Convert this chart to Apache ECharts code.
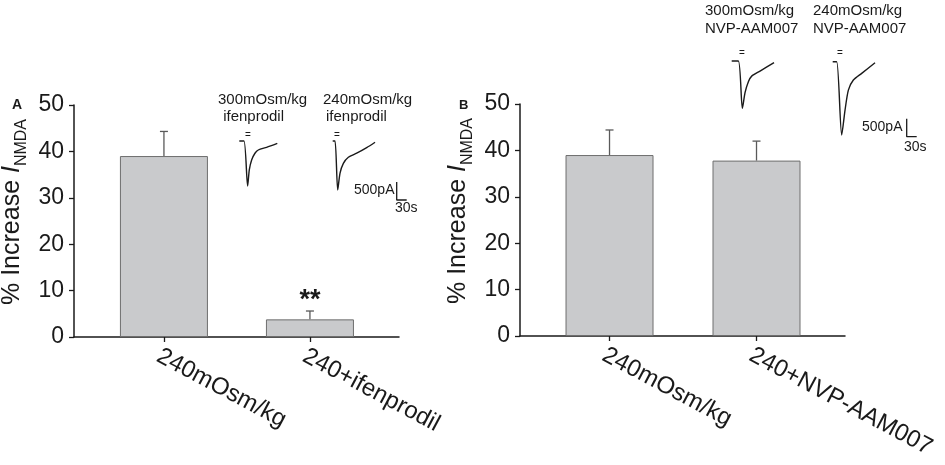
<!DOCTYPE html>
<html><head><meta charset="utf-8">
<script src="https://cdn.jsdelivr.net/npm/echarts@6/dist/echarts.min.js"></script>
<style>html,body{margin:0;padding:0;background:#fff}#c{width:945px;height:465px}</style>
</head><body><div id="c"></div>
<script>
// ---- data ----
const categoriesA = ['240mOsm/kg', '240+ifenprodil'];
const valuesA = [39.0, 3.8];
const errorsA = [5.3, 1.8];
const sigA = ['', '**'];
const categoriesB = ['240mOsm/kg', '240+NVP-AAM007'];
const valuesB = [39.0, 37.8];
const errorsB = [5.4, 4.2];
const sigB = ['', ''];
const yMin = 0, yMax = 50, yStep = 10;
// inset current traces: [time (s), current (pA)]
const trace300Ifen = [[0,0],[14,0],[25,-1250],[30,-800],[37,-525],[47,-340],[57,-250],[82,-175],[114,-65]];
const trace240Ifen = [[0,0],[7,0],[15,-1360],[22,-890],[32,-620],[47,-450],[72,-340],[102,-185],[127,-35]];
const trace300NVP = [[0,0],[20,0],[32,-1315],[40,-880],[50,-575],[60,-420],[85,-280],[127,-45]];
const trace240NVP = [[0,0],[12,0],[27,-2035],[37,-1345],[47,-790],[62,-510],[87,-325],[127,-30]];
const scaleBar = [[0,500],[0,0],[30,0]]; // 500 pA / 30 s
const insetTitlesA = [['300mOsm/kg', ' ifenprodil'], ['240mOsm/kg', 'ifenprodil']];
const insetTitlesB = [['300mOsm/kg', 'NVP-AAM007'], ['240mOsm/kg', 'NVP-AAM007']];
const scaleLabels = ['500pA', '30s'];

// ---- layout ----
const FONT = 'Liberation Sans, Arial, Helvetica, sans-serif';
const PX_PER_S = 1/3, PX_PER_PA = 0.036;
const grids = [], xAxes = [], yAxes = [], series = [], graphics = [];
const barFill = '#c9cacc', barBorder = '#6e6e6e', ink = '#1a1a1a';

function panel(left, top, xmin, xmax, cats, vals, errs, sig) {
  const gi = grids.length;
  grids.push({left: left, top: top, width: 325, height: 232, outerBoundsMode: 'none', containLabel: false});
  xAxes.push({gridIndex: gi, type: 'value', min: xmin, max: xmax,
    axisLine: {show: true, onZero: false, lineStyle: {color: ink, width: 1.5}},
    axisTick: {show: true, customValues: cats.map((c, i) => i), length: 5, lineStyle: {color: ink, width: 1.3}},
    axisLabel: {show: true, customValues: cats.map((c, i) => i), formatter: v => cats[Math.round(v)],
      rotate: -28, align: 'left', verticalAlign: 'top', margin: 7,
      fontSize: 24, color: ink, fontFamily: FONT},
    splitLine: {show: false}});
  yAxes.push({gridIndex: gi, type: 'value', min: yMin, max: yMax, interval: yStep,
    axisLine: {show: true, onZero: false, lineStyle: {color: ink, width: 1.5}},
    axisTick: {show: true, length: 5, lineStyle: {color: ink, width: 1.3}},
    axisLabel: {fontSize: 23, color: ink, fontFamily: FONT, margin: 10},
    splitLine: {show: false},
    name: '{a|% Increase }{i|I}{s|NMDA}', nameLocation: 'middle', nameGap: 46, nameRotate: 90,
    nameTextStyle: {fontFamily: FONT, color: ink, padding: [0, 0, 0, 18],
      rich: {a: {fontSize: 25, fontFamily: FONT, color: ink, lineHeight: 28, verticalAlign: 'top'},
             i: {fontSize: 25, fontFamily: FONT, color: ink, fontStyle: 'italic', lineHeight: 28, verticalAlign: 'top'},
             s: {fontSize: 16, fontFamily: FONT, color: ink, lineHeight: 16, verticalAlign: 'top', padding: [14, 0, 0, 0]}}}});
  series.push({type: 'bar', xAxisIndex: gi, yAxisIndex: gi, barWidth: 88,
    data: cats.map((c, i) => [i, vals[i]]),
    itemStyle: {color: barFill, borderColor: barBorder, borderWidth: 1}, silent: true, animation: false});
  series.push({type: 'custom', xAxisIndex: gi, yAxisIndex: gi, z: 5, silent: true, animation: false,
    data: cats.map((c, i) => [i, vals[i], errs[i]]),
    renderItem: function (params, api) {
      const x = api.value(0), v = api.value(1), e = api.value(2);
      const p0 = api.coord([x, v]), p1 = api.coord([x, v + e]);
      const st = {stroke: '#5a5a5a', lineWidth: 1.3};
      const ch = [
        {type: 'line', shape: {x1: p0[0], y1: p0[1], x2: p1[0], y2: p1[1]}, style: st},
        {type: 'line', shape: {x1: p1[0] - 4, y1: p1[1], x2: p1[0] + 4, y2: p1[1]}, style: st}];
      const s = sig[params.dataIndex];
      if (s) ch.push({type: 'text', style: {text: s, x: p1[0], y: p1[1] + 3, align: 'center', verticalAlign: 'bottom',
        fontSize: 27, fontWeight: 'bold', fontFamily: FONT, fill: ink}});
      return {type: 'group', children: ch};
    }});
}

function insetGrid(left, top, width, height, x0, y0, data) {
  // grid whose data origin (0 s, 0 pA) lands at pixel (x0, y0)
  const gi = grids.length;
  grids.push({left: left, top: top, width: width, height: height, outerBoundsMode: 'none'});
  xAxes.push({gridIndex: gi, type: 'value', show: false, min: -(x0 - left) / PX_PER_S, max: (left + width - x0) / PX_PER_S});
  yAxes.push({gridIndex: gi, type: 'value', show: false, min: -(top + height - y0) / PX_PER_PA, max: (y0 - top) / PX_PER_PA});
  series.push({type: 'line', xAxisIndex: gi, yAxisIndex: gi, data: data, showSymbol: false, symbol: 'none',
    smooth: 0.25, clip: false, silent: true, animation: false, lineStyle: {color: ink, width: 1.4}});
}
function scaleGrid(x0, y0) {
  const gi = grids.length;
  grids.push({left: x0 - 5, top: y0 - 25, width: 25, height: 30, outerBoundsMode: 'none'});
  xAxes.push({gridIndex: gi, type: 'value', show: false, min: -5 / PX_PER_S, max: 20 / PX_PER_S});
  yAxes.push({gridIndex: gi, type: 'value', show: false, min: -5 / PX_PER_PA, max: 25 / PX_PER_PA});
  series.push({type: 'line', xAxisIndex: gi, yAxisIndex: gi, data: scaleBar, showSymbol: false, symbol: 'none',
    clip: false, silent: true, animation: false, lineStyle: {color: ink, width: 1.3}});
}
function txt(x, y, t, size, weight) {
  graphics.push({type: 'text', left: x, top: y, silent: true,
    style: {text: t, fontSize: size || 14, fontWeight: weight || 'normal', fontFamily: FONT, fill: ink}});
}

panel(74, 105, -0.616, 1.610, categoriesA, valuesA, errorsA, sigA);
panel(520, 104, -0.609, 1.602, categoriesB, valuesB, errorsB, sigB);

insetGrid(235, 128, 50, 70, 239.3, 141, trace300Ifen);
insetGrid(328, 128, 55, 70, 332.7, 141, trace240Ifen);
insetGrid(727, 48, 55, 70, 731.7, 61, trace300NVP);
insetGrid(828, 48, 55, 95, 832.7, 61.7, trace240NVP);
scaleGrid(396.7, 200);
scaleGrid(906.7, 136.7);

txt(12, 98, 'A', 14, 'bold');
txt(459, 99, 'B', 13, 'bold');
txt(218, 92, insetTitlesA[0][0], 15); txt(219, 109, insetTitlesA[0][1], 15);
txt(323, 92, insetTitlesA[1][0], 15); txt(326, 109, insetTitlesA[1][1], 15);
txt(705, 3, insetTitlesB[0][0], 15); txt(705, 21, insetTitlesB[0][1], 15);
txt(813, 3, insetTitlesB[1][0], 15); txt(813, 21, insetTitlesB[1][1], 15);
txt(354, 183, scaleLabels[0]); txt(395, 201, scaleLabels[1]);
txt(862, 120, scaleLabels[0]); txt(904, 140, scaleLabels[1]);
// drug application marks
[[245, 130], [334, 130], [739, 48], [837, 48]].forEach(p => txt(p[0], p[1], '=', 10));

const chart = echarts.init(document.getElementById('c'), null, {renderer: 'canvas'});
chart.setOption({animation: false, backgroundColor: '#fff', grid: grids, xAxis: xAxes, yAxis: yAxes, series: series, graphic: graphics});
</script></body></html>
